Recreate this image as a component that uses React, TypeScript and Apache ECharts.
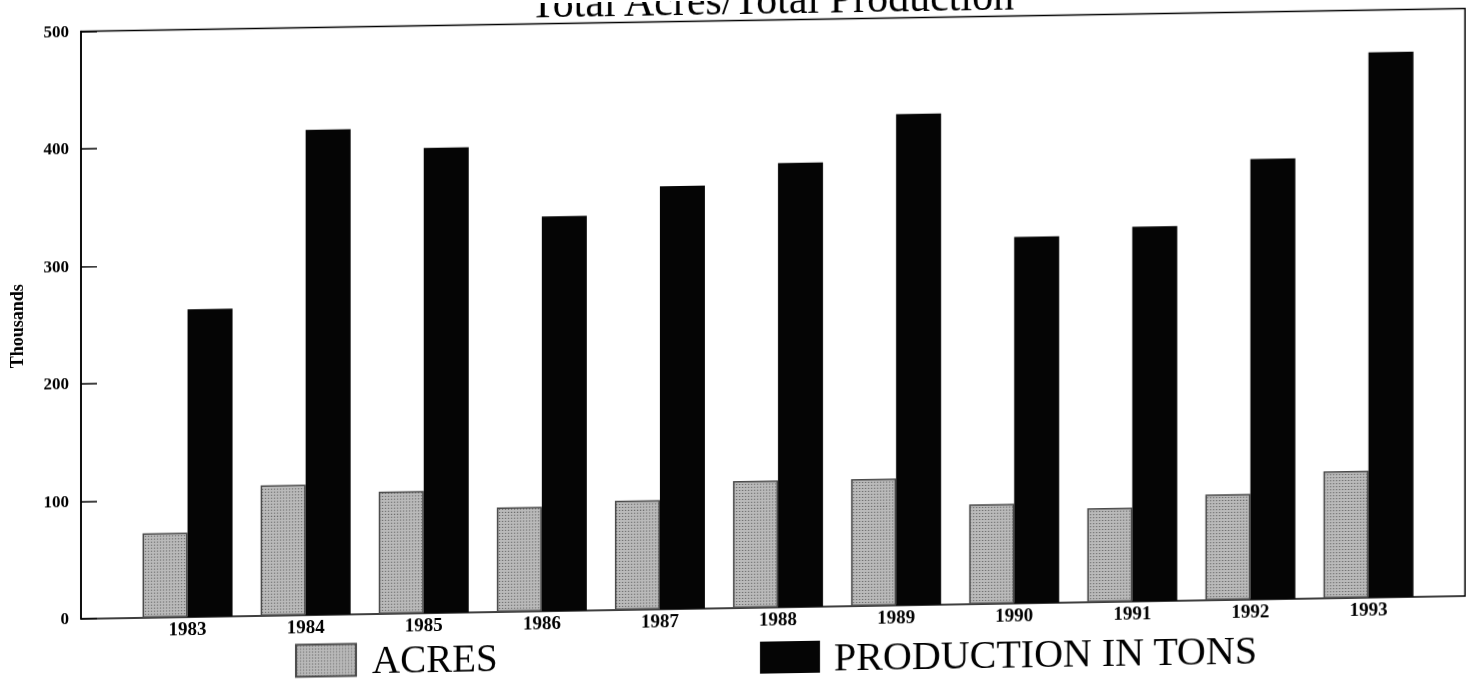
import React, { useEffect, useRef } from "react";
import * as echarts from "echarts";

const years = ["1983", "1984", "1985", "1986", "1987", "1988", "1989", "1990", "1991", "1992", "1993"];
const acres = [72, 111, 104, 89, 93, 108, 108, 85, 80, 90, 108];
const production = [262, 413, 396, 336, 360, 378, 418, 312, 319, 375, 464];
const yTicks = [0, 100, 200, 300, 400, 500];

const SERIF = "'Liberation Serif', 'Times New Roman', serif";

function makePattern(): HTMLCanvasElement {
  const c = document.createElement("canvas");
  c.width = 3;
  c.height = 3;
  const ctx = c.getContext("2d")!;
  ctx.fillStyle = "#bababa";
  ctx.fillRect(0, 0, 3, 3);
  ctx.fillStyle = "#3c3c3c";
  ctx.fillRect(1, 1, 1, 1);
  return c;
}

export default function App() {
  const ref = useRef<HTMLDivElement>(null);

  useEffect(() => {
    if (!ref.current) return;
    const chart = echarts.init(ref.current, undefined, { renderer: "svg" });
    const pattern = { image: makePattern(), repeat: "repeat" } as any;

    const legendBase = {
      padding: 0,
      itemWidth: 60,
      itemHeight: 32,
      icon: "rect",
      selectedMode: false,
    };

    const option: any = {
      animation: false,
      backgroundColor: "#ffffff",
      title: {
        text: "Total Acres/Total Production",
        left: 530,
        top: -21,
        padding: 0,
        textStyle: { fontFamily: SERIF, fontSize: 42, fontWeight: "normal", color: "#000" },
      },
      legend: [
        {
          ...legendBase,
          left: 295,
          top: 634,
          data: ["ACRES"],
          textStyle: { fontFamily: SERIF, fontSize: 39, lineHeight: 30, color: "#000", padding: [0, 0, 0, 11] },
        },
        {
          ...legendBase,
          left: 760,
          top: 638,
          data: ["PRODUCTION IN TONS"],
          textStyle: { fontFamily: SERIF, fontSize: 40, lineHeight: 30, color: "#000", padding: [0, 0, 0, 9] },
        },
      ],
      grid: [
        { left: 80, right: 16, top: 20.5, height: 587.5, show: true, borderColor: "#000", borderWidth: 1.5, backgroundColor: "transparent" },
        { left: 128.5, width: 1299, top: 20.5, height: 587.5 },
      ],
      xAxis: [
        { type: "value", gridIndex: 0, show: false, min: 0, max: 1 },
        {
          type: "category",
          gridIndex: 1,
          data: years,
          axisLine: { show: false },
          axisTick: { show: false },
          axisLabel: { fontFamily: SERIF, fontSize: 19, fontWeight: "bold", color: "#000", margin: 2 },
        },
      ],
      yAxis: [
        {
          type: "value",
          gridIndex: 0,
          min: yTicks[0],
          max: yTicks[yTicks.length - 1],
          interval: 100,
          name: "Thousands",
          nameLocation: "middle",
          nameRotate: 90,
          nameGap: 55,
          nameTextStyle: { fontFamily: SERIF, fontSize: 18, fontWeight: "bold", color: "#000" },
          axisLine: { show: true, lineStyle: { color: "#000", width: 1.5 } },
          axisTick: { show: true, inside: true, length: 16, lineStyle: { color: "#000", width: 1.5 } },
          axisLabel: { fontFamily: SERIF, fontSize: 17, fontWeight: "bold", color: "#000", margin: 12 },
          splitLine: { show: false },
        },
        { type: "value", gridIndex: 1, min: 0, max: 500, show: false, splitLine: { show: false } },
      ],
      series: [
        {
          name: "ACRES",
          type: "bar",
          xAxisIndex: 1,
          yAxisIndex: 1,
          data: acres,
          barWidth: 45,
          barGap: "0%",
          itemStyle: { color: pattern, borderColor: "#4a4a4a", borderWidth: 1.5 },
        },
        {
          name: "PRODUCTION IN TONS",
          type: "bar",
          xAxisIndex: 1,
          yAxisIndex: 1,
          data: production,
          barWidth: 45,
          barGap: "0%",
          itemStyle: { color: "#050505" },
        },
      ],
    };
    chart.setOption(option);
    return () => chart.dispose();
  }, []);

  return (
    <div
      ref={ref}
      style={{
        position: "fixed",
        left: 0,
        top: 0,
        width: 1481,
        height: 683,
        transform: "skewY(-0.945deg)",
        transformOrigin: "50% 50%",
        background: "#fff",
      }}
    />
  );
}
